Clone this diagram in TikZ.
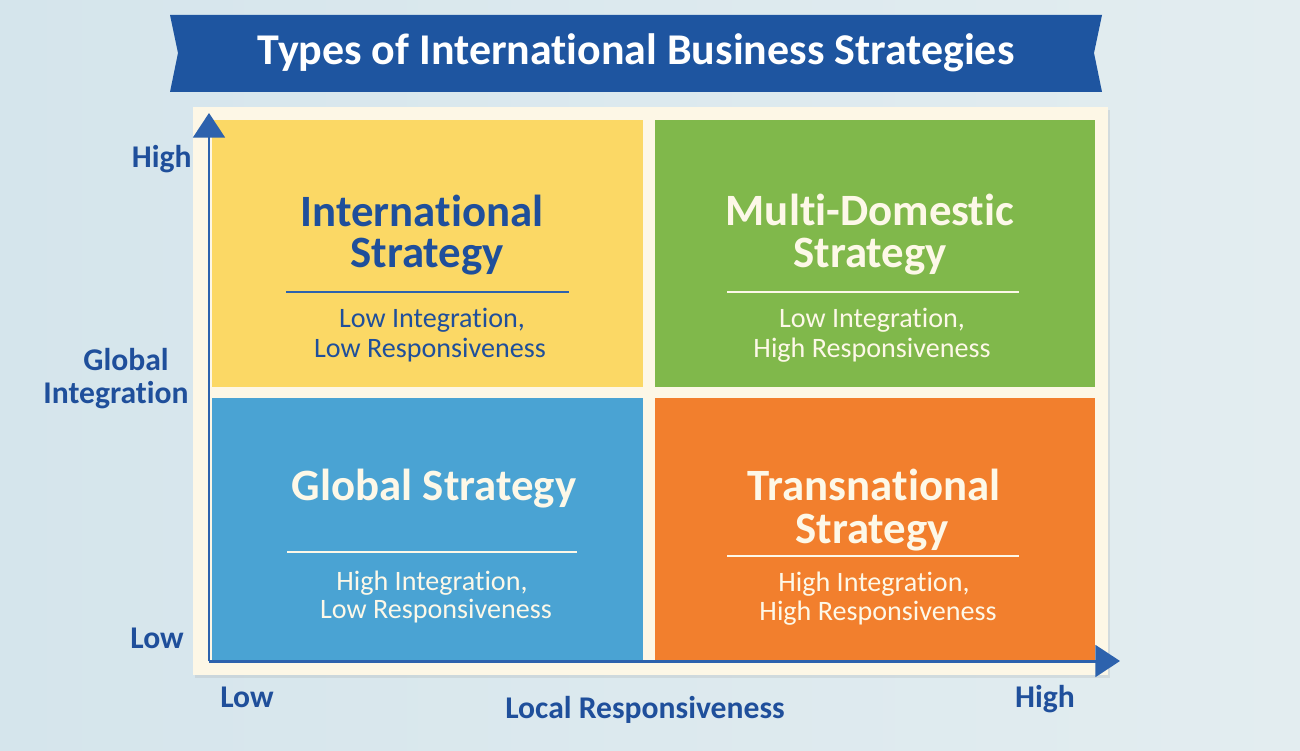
\documentclass[tikz,border=0pt]{standalone}
\usepackage{fontspec}
\setmainfont{Carlito}[Ligatures=NoCommon]
\usetikzlibrary{arrows.meta,shadows}
\definecolor{bgl}{HTML}{D5E5EC}
\definecolor{bgr}{HTML}{E3EDF0}
\definecolor{banner}{HTML}{1E55A0}
\definecolor{cream}{HTML}{FDF7E6}
\definecolor{qyellow}{HTML}{FBD865}
\definecolor{qgreen}{HTML}{80B84B}
\definecolor{qblue}{HTML}{4AA3D3}
\definecolor{qorange}{HTML}{F27F2D}
\definecolor{axtext}{HTML}{1F4F9B}
\definecolor{axisblue}{HTML}{2D62AD}
\definecolor{lighttext}{HTML}{FDF8E8}
\begin{document}
\begin{tikzpicture}[x=0.02cm,y=-0.02cm,inner sep=0pt,
  qtitle/.style={anchor=base,font=\fontsize{25.5}{30}\selectfont\bfseries},
  qsub/.style={anchor=base,font=\fontsize{16}{19}\selectfont},
  axlabel/.style={anchor=base,font=\fontsize{18}{21}\selectfont\bfseries,text=axtext},
  axisline/.style={line width=1.7pt,draw=axisblue,-{Triangle[width=18pt,length=14pt]}},
  rulerline/.style={line width=0.7pt}]
\useasboundingbox (0,0) rectangle (1300,750);
\shade[left color=bgl,right color=bgr] (0,0) rectangle (1300,750);
% banner
\fill[banner] (170,15) -- (1102,15) -- (1094,53) -- (1102,92) -- (170,92) -- (178,53) -- cycle;
\node[anchor=base,font=\fontsize{25}{30}\selectfont\bfseries,text=white] (title) at (636,65) {Types of International Business Strategies};
% frame
\fill[cream,drop shadow={opacity=0.15,shadow xshift=1pt,shadow yshift=-1.5pt}] (193,107) rectangle (1108,675);
% quadrants
\fill[qyellow] (212,120) rectangle (643,387);
\fill[qgreen] (655,120) rectangle (1095,387);
\fill[qblue] (212,398) rectangle (643,662);
\fill[qorange] (655,398) rectangle (1095,662);
% yellow quadrant
\node[qtitle,text=axtext] (q1a) at (422,226) {International};
\node[qtitle,text=axtext] (q1b) at (427,267) {Strategy};
\draw[rulerline,draw=axisblue] (286,292) -- (569,292);
\node[qsub,text=axtext] (q1c) at (432,327) {Low Integration,};
\node[qsub,text=axtext] (q1d) at (430,357) {Low Responsiveness};
% green quadrant
\node[qtitle,text=lighttext] (q2a) at (870,225) {Multi-Domestic};
\node[qtitle,text=lighttext] (q2b) at (870,267) {Strategy};
\draw[rulerline,draw=lighttext] (727,292) -- (1019,292);
\node[qsub,text=lighttext] (q2c) at (872,327) {Low Integration,};
\node[qsub,text=lighttext] (q2d) at (872,357) {High Responsiveness};
% blue quadrant
\node[qtitle,text=lighttext] (q3a) at (434,500) {Global Strategy};
\draw[rulerline,draw=lighttext] (287,552) -- (577,552);
\node[qsub,text=lighttext] (q3c) at (432,590) {High Integration,};
\node[qsub,text=lighttext] (q3d) at (436,618) {Low Responsiveness};
% orange quadrant
\node[qtitle,text=lighttext] (q4a) at (874,500) {Transnational};
\node[qtitle,text=lighttext] (q4b) at (872,543) {Strategy};
\draw[rulerline,draw=lighttext] (727,556) -- (1019,556);
\node[qsub,text=lighttext] (q4c) at (874,591) {High Integration,};
\node[qsub,text=lighttext] (q4d) at (878,620) {High Responsiveness};
% axes
\coordinate (O) at (209,661);
\coordinate (ytip) at (209,113);
\coordinate (xtip) at (1120,661);
\draw[axisline] (O) -- (ytip);
\draw[axisline] (O) -- (xtip);
% axis labels
\node[axlabel,anchor=base east] (yhigh) at (192,167) {High};
\node[axlabel] (yg1) at (126,370) {Global};
\node[axlabel] (yg2) at (116,403) {Integration};
\node[axlabel,anchor=base west] (ylow) at (130,648) {Low};
\node[axlabel] (xlow) at (247,707) {Low};
\node[axlabel] (xhigh) at (1045,707) {High};
\node[axlabel] (xname) at (645,718) {Local Responsiveness};
\end{tikzpicture}
\end{document}
